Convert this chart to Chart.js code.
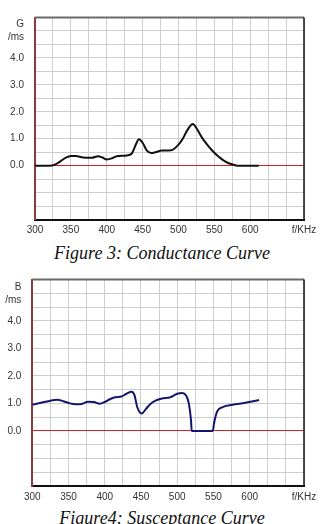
<!DOCTYPE html>
<html>
<head>
<meta charset="utf-8">
<script src="https://cdn.jsdelivr.net/npm/chart.js@4"></script>
<style>
  html, body { margin:0; padding:0; background:#fff; }
  body { width:324px; height:524px; position:relative; overflow:hidden; }
  canvas { position:absolute; left:0; }
  .cap { position:absolute; left:0; width:324px; text-align:center; white-space:nowrap;
         font-family:"Liberation Serif","Times New Roman",serif; font-style:italic;
         font-size:18px; color:#111; line-height:20px; }
</style>
</head>
<body>
<canvas id="c1" width="324" height="240" style="top:0px"></canvas>
<div class="cap" style="top:243px">Figure 3: Conductance Curve</div>
<canvas id="c2" width="324" height="245" style="top:262px"></canvas>
<div class="cap" style="top:508px">Figure4: Susceptance Curve</div>
<script>
// ---- data ----
const gFreq  = [300, 320, 327, 335, 343, 350, 357, 367, 379, 388, 394, 400, 407, 414, 428, 435, 440, 445, 450, 456, 462, 468, 477, 490, 500, 506, 512, 520, 526, 533, 540, 547, 553, 559, 565, 570, 576, 582, 612];
const gValue = [0, 0, 0.03, 0.15, 0.30, 0.36, 0.36, 0.30, 0.29, 0.35, 0.30, 0.23, 0.27, 0.35, 0.38, 0.45, 0.75, 0.98, 0.85, 0.56, 0.47, 0.50, 0.56, 0.57, 0.78, 1.00, 1.30, 1.55, 1.35, 1.03, 0.78, 0.56, 0.40, 0.27, 0.16, 0.09, 0.04, 0, 0];

const bFreq  = [300, 315, 325, 334, 343, 352, 360, 368, 377, 385, 393, 400, 407, 414, 423, 430, 437, 441, 445, 451, 457, 463, 470, 479, 490, 500, 507, 512, 516, 519, 520, 549, 551, 555, 562, 576, 594, 613];
const bValue = [0.95, 1.04, 1.10, 1.13, 1.08, 1.00, 0.97, 0.98, 1.06, 1.05, 0.99, 1.05, 1.15, 1.22, 1.25, 1.35, 1.42, 1.30, 0.85, 0.63, 0.80, 0.98, 1.10, 1.18, 1.22, 1.35, 1.38, 1.30, 1.00, 0.40, 0, 0, 0.30, 0.70, 0.86, 0.95, 1.02, 1.12];

const xTickLabels = { 300:'300', 350:'350', 400:'400', 450:'450', 500:'500', 550:'550', 600:'600', 675:'f/KHz' };
const yTickLabels = { 0:'0.0', 1:'1.0', 2:'2.0', 3:'3.0', 4:'4.0' };
const gUnit = ['G', '/ms'];
const bUnit = ['B', '/ms'];

const frame = {
  id: 'frame',
  afterDraw(chart) {
    const a = chart.chartArea, ctx = chart.ctx;
    ctx.save();
    ctx.lineWidth = 2;
    ctx.strokeStyle = '#6a6a6a';
    ctx.beginPath(); ctx.moveTo(a.left, a.top); ctx.lineTo(a.right, a.top); ctx.stroke();
    ctx.strokeStyle = '#111';
    ctx.lineWidth = 1.5;
    ctx.beginPath(); ctx.moveTo(a.right, a.top); ctx.lineTo(a.right, a.bottom); ctx.stroke();
    ctx.restore();
  }
};

function makeChart(id, freq, vals, color, unit, pad, yWidth, xHeight) {
  const pts = freq.map((f, i) => ({ x: f, y: vals[i] }));
  return new Chart(document.getElementById(id), {
    type: 'line',
    data: { datasets: [{ data: pts, borderColor: color, borderWidth: 2, pointRadius: 0,
                         fill: false, cubicInterpolationMode: 'monotone' }] },
    options: {
      responsive: false, animation: false,
      layout: { padding: pad },
      plugins: { legend: { display: false }, tooltip: { enabled: false } },
      scales: {
        x: {
          type: 'linear', min: 300, max: 675,
          afterBuildTicks(s) { const t = []; for (let v = 300; v <= 675; v += 25) t.push({ value: v }); s.ticks = t; },
          afterFit(s) { s.height = xHeight; },
          ticks: { autoSkip: false, maxRotation: 0, padding: 5, color: '#333',
                   font: { family: 'Liberation Sans, Arial, sans-serif', size: 10 },
                   callback: v => xTickLabels[v] || '' },
          grid: { color: '#cdcdcd', lineWidth: 1, drawTicks: false },
          border: { color: '#111', width: 2 }
        },
        y: {
          type: 'linear', min: -2, max: 5.5,
          afterBuildTicks(s) { const t = []; for (let v = -2; v <= 5.5; v += 0.5) t.push({ value: v }); s.ticks = t; },
          afterFit(s) { s.width = yWidth; },
          ticks: { autoSkip: false, padding: 11, color: '#333',
                   font: { family: 'Liberation Sans, Arial, sans-serif', size: 10, lineHeight: 1.3 },
                   callback: v => (v === 5 ? unit : (yTickLabels[v] || '')) },
          grid: { color: c => (c.tick && c.tick.value === 0 ? '#d42020' : '#cdcdcd'), lineWidth: 1, drawTicks: false },
          border: { color: '#8c3a3a', width: 2 }
        }
      }
    },
    plugins: [frame]
  });
}

makeChart('c1', gFreq, gValue, '#111111', gUnit, { top: 6, right: 20, left: 0, bottom: 0 }, 35, 20.5);
makeChart('c2', bFreq, bValue, '#15156e', bUnit, { top: 6.3, right: 20, left: 0, bottom: 0 }, 32.3, 21);
</script>
</body>
</html>
